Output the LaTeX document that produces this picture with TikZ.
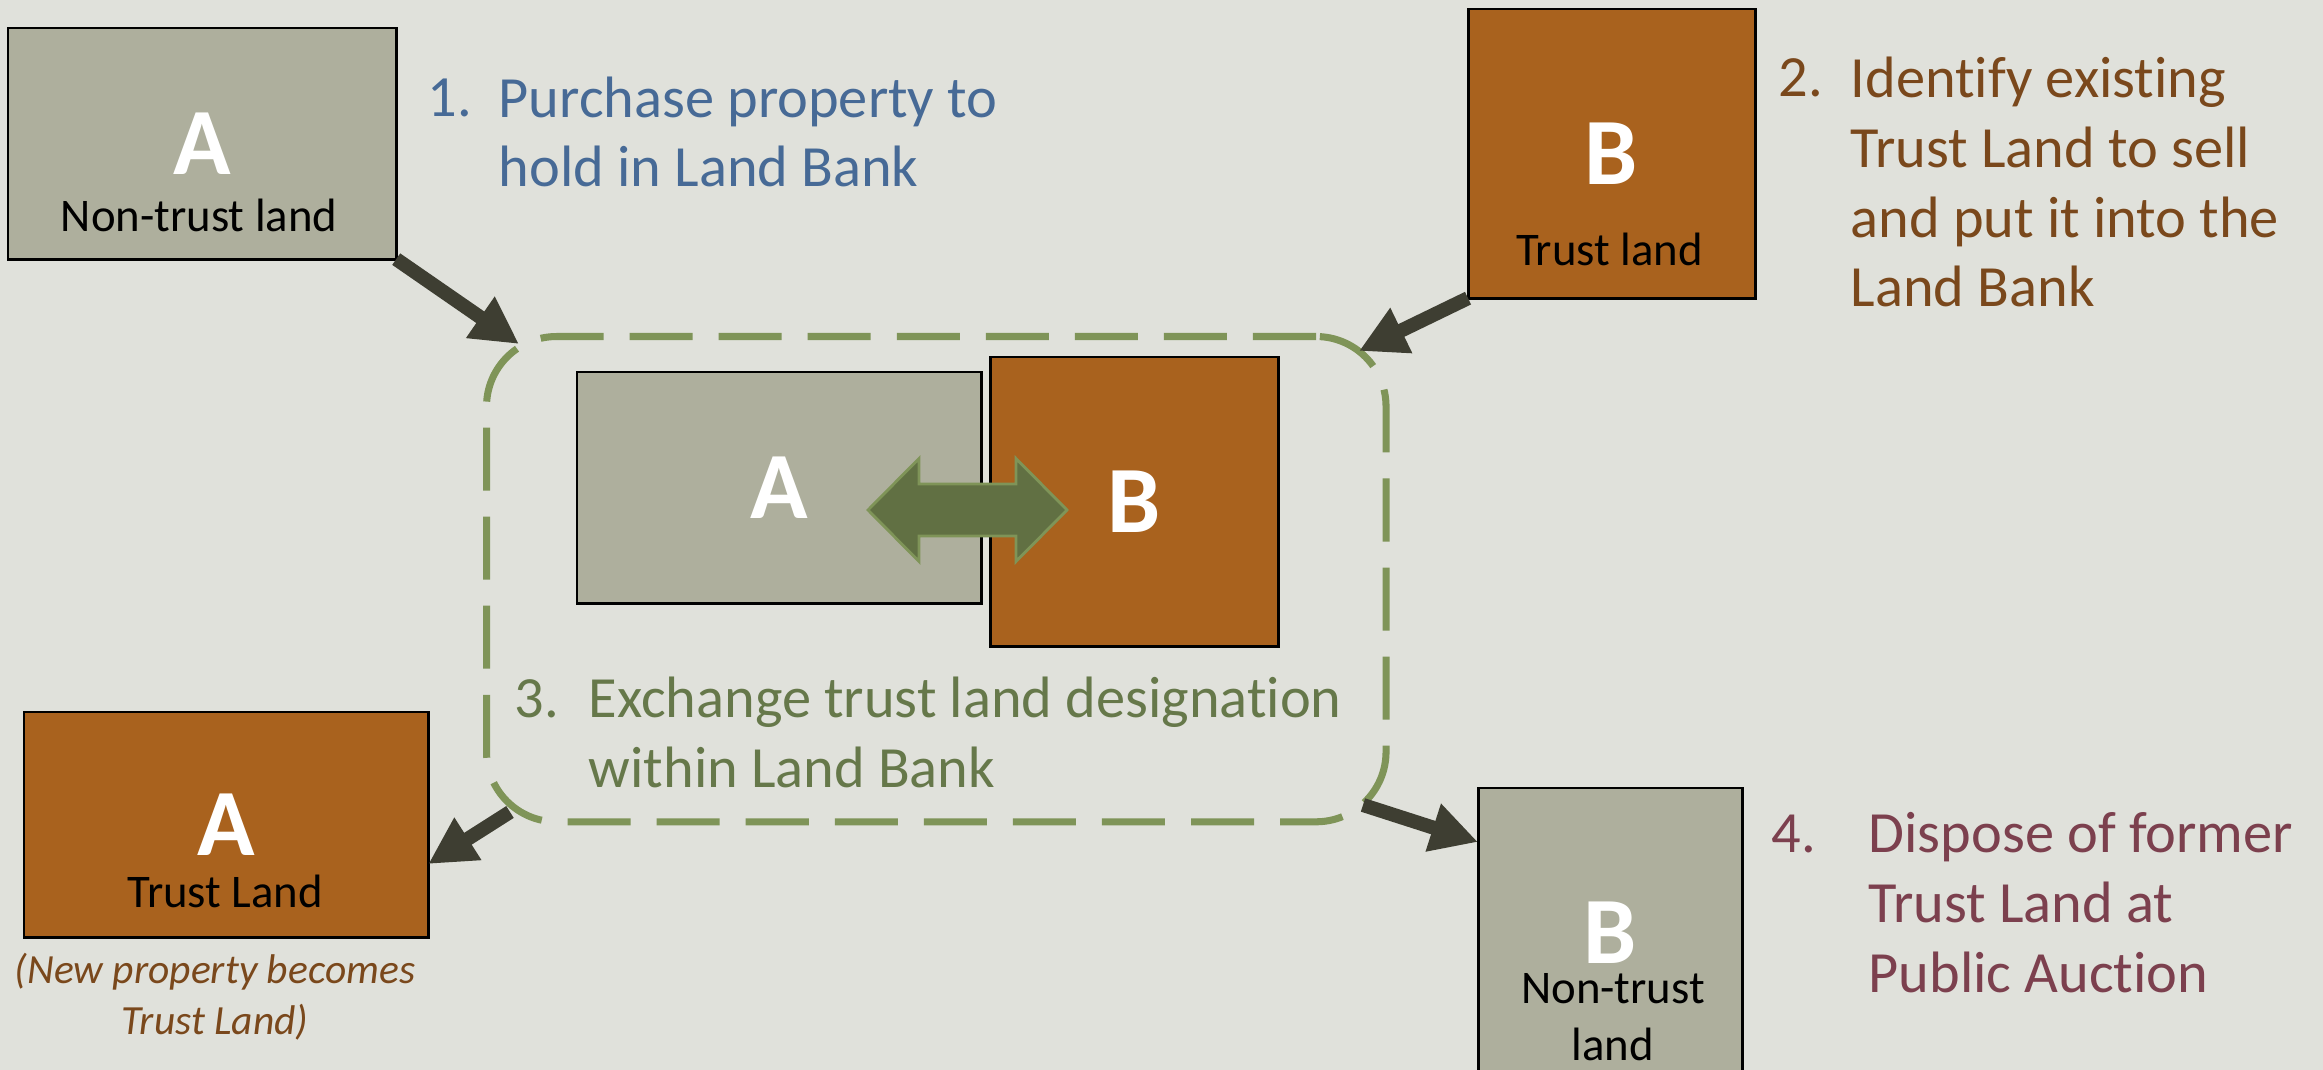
\documentclass[tikz,border=0pt]{standalone}
\usepackage{fontspec}
\setmainfont{Carlito}[Ligatures=NoCommon]
\usetikzlibrary{arrows.meta, positioning, calc}
\definecolor{bgpaper}{RGB}{224,225,219}
\definecolor{plotgrey}{RGB}{174,175,157}
\definecolor{trustorange}{RGB}{169,98,30}
\definecolor{arrowdark}{RGB}{62,62,50}
\definecolor{bankgreen}{RGB}{127,148,88}
\definecolor{swapgreen}{RGB}{97,112,67}
\definecolor{stepblue}{RGB}{71,106,150}
\definecolor{stepbrown}{RGB}{122,72,28}
\definecolor{stepgreen}{RGB}{102,120,74}
\definecolor{stepred}{RGB}{124,64,78}

\begin{document}
\begin{tikzpicture}[
        x=0.01cm, y=-0.01cm,
        parcel/.style={rectangle, draw=black, line width=0.85pt, inner sep=0pt, outer sep=0pt, anchor=north west, text=white, font=\fontsize{27}{32}\selectfont\bfseries},
        nontrust/.style={parcel, fill=plotgrey},
        trust/.style={parcel, fill=trustorange},
        plotlabel/.style={anchor=base, align=center, inner sep=0pt, font=\fontsize{13.3}{16.2}\selectfont},
        stepnum/.style={anchor=base west, inner sep=0pt, font=\fontsize{16.6}{19.9}\selectfont},
        steptext/.style={stepnum, align=left},
        move/.style={draw=arrowdark, line width=0.14cm, -{Triangle[length=0.47cm, width=0.47cm]}},
        bankline/.style={draw=bankgreen, line width=2pt, dash pattern=on 0.63cm off 0.26cm, rounded corners=0.7cm},
        swaparrow/.style={draw=bankgreen, fill=swapgreen, line width=0.8pt, line join=miter}
    ]
    \fill[bgpaper] (0,0) rectangle (2323,1070);
    \clip (0,0) rectangle (2323,1070);

    \node[nontrust, minimum width=3.88cm, minimum height=2.31cm] (a1) at (8,28) {A};
    \node[plotlabel] (a1lbl) at ($(a1.south)+(-3,-28)$) {Non-trust land};
    \node[stepnum, text=stepblue] (n1) at (427,117) {1.};
    \node[steptext, text=stepblue] (s1) at (498,187) {Purchase property to\\hold in Land Bank};

    \node[trust, minimum width=2.87cm, minimum height=2.89cm] (b1) at (1468,9) {B};
    \node[plotlabel] (b1lbl) at ($(b1.south)+(-2,-33)$) {Trust land};
    \node[stepnum, text=stepbrown] (n2) at (1778,97) {2.};
    \node[steptext, text=stepbrown] (s2) at (1850,307) {Identify existing\\Trust Land to sell\\and put it into the\\Land Bank};

    \node[bankline, anchor=north west, minimum width=8.99cm, minimum height=4.85cm, inner sep=0pt] (bank) at (483,333) {};
    \node[nontrust, minimum width=4.04cm, minimum height=2.31cm] (ca) at (577,372) {A};
    \node[trust, minimum width=2.88cm, minimum height=2.89cm] (cb) at (990,357) {B};
    \coordinate (xchg) at (967.5,510);
    \draw[swaparrow, shift={(xchg)}] (-99.5,0) -- (-48.5,-51.5) -- (-48.5,-26) -- (48.5,-26) -- (48.5,-51.5)
        -- (99.5,0) -- (48.5,51.5) -- (48.5,26) -- (-48.5,26) -- (-48.5,51.5) -- cycle;
    \node[stepnum, text=stepgreen] (n3) at (514,717) {3.};
    \node[steptext, text=stepgreen] (s3) at (588,787) {Exchange trust land designation\\within Land Bank};

    \node[trust, minimum width=4.04cm, minimum height=2.25cm] (a2) at (24,712) {A};
    \node[plotlabel] (a2lbl) at ($(a2.south)+(-1,-30)$) {Trust Land};
    \node[plotlabel, text=stepbrown, font=\fontsize{11.8}{14.5}\selectfont\itshape] (note) at (215,1034) {(New property becomes\\Trust Land)};

    \node[nontrust, minimum width=2.64cm, minimum height=2.89cm] (b2) at (1478,788) {B};
    \node[plotlabel] (b2lbl) at (1613,1060) {Non-trust\\land};
    \node[stepnum, text=stepred] (n4) at (1771,852) {4.};
    \node[steptext, text=stepred] (s4) at (1868,992) {Dispose of former\\Trust Land at\\Public Auction};

    \coordinate (in1) at (519,344);
    \coordinate (in2) at (1359,351);
    \coordinate (out3) at (510,812);
    \coordinate (out4) at (1363,805);
    \draw[move] (a1.south east) -- (in1);
    \draw[move] (b1.south west) -- (in2);
    \draw[move] (out3) -- ($(a2.north east)+(0,152)$);
    \draw[move] (out4) -- ($(b2.north west)+(0,54)$);
\end{tikzpicture}
\end{document}
